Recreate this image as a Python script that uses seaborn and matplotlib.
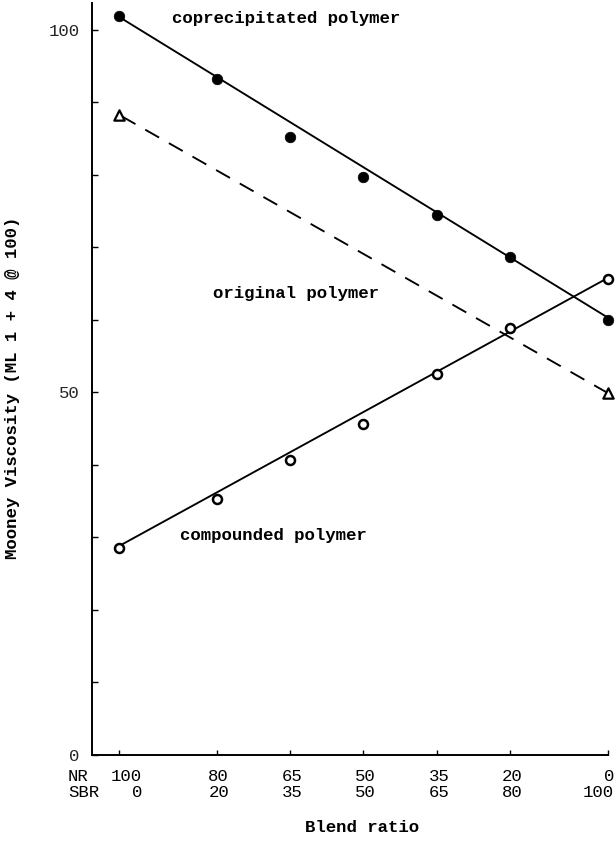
import matplotlib
matplotlib.use("Agg")
import matplotlib.pyplot as plt
import matplotlib.transforms as mtransforms
from matplotlib.ticker import FixedLocator
import pandas as pd
import seaborn as sns

# Blend ratios (NR / SBR parts) and Mooney viscosities
nr = [100, 80, 65, 50, 35, 20, 0]
sbr = [0, 20, 35, 50, 65, 80, 100]
coprecipitated = [101.9, 93.2, 85.2, 79.7, 74.5, 68.7, 60.0]
compounded = [28.6, 35.3, 40.7, 45.7, 52.6, 58.9, 65.7]

# Original (unblended) polymers, joined by a dashed line
original_nr = [100, 0]
original = [88.3, 49.9]

# Straight-line trends drawn through each series (values at NR 100 and NR 0)
trend_nr = [100, 0]
coprecipitated_trend = [101.8, 60.3]
compounded_trend = [28.8, 65.8]

y_major = [0, 50, 100]
y_minor = [10, 20, 30, 40, 60, 70, 80, 90]

points = pd.DataFrame({"nr": nr, "sbr": sbr,
                       "coprecipitated": coprecipitated,
                       "compounded": compounded})

sns.set_style("ticks")
plt.rcParams["font.family"] = ["Liberation Mono", "DejaVu Sans Mono"]
FS = 12.5

fig = plt.figure(figsize=(6.15, 8.41), dpi=100)
ax = fig.add_axes([92 / 615, 1 - 755 / 841, 516 / 615, 752 / 841])

line_kw = dict(color="black", linewidth=1.35, ax=ax, legend=False)
sns.lineplot(x=trend_nr, y=coprecipitated_trend, **line_kw)
sns.lineplot(x=trend_nr, y=compounded_trend, **line_kw)
sns.lineplot(x=original_nr, y=original, linestyle=(0, (8.5, 6.0)), **line_kw)

sns.scatterplot(data=points, x="nr", y="coprecipitated", ax=ax, marker="o",
                s=58, color="black", edgecolor="black", linewidth=0.5,
                clip_on=False, zorder=4)
sns.scatterplot(data=points, x="nr", y="compounded", ax=ax, marker="o",
                s=42, facecolor="white", edgecolor="black", linewidth=1.8,
                clip_on=False, zorder=4)
sns.scatterplot(x=original_nr, y=original, ax=ax, marker="^",
                s=55, facecolor="white", edgecolor="black", linewidth=1.6,
                clip_on=False, zorder=4)

ax.set_xlim(105.5, 0)
ax.set_ylim(0, 103.7)

for side in ("top", "right"):
    ax.spines[side].set_visible(False)
for side in ("left", "bottom"):
    ax.spines[side].set_linewidth(1.4)
    ax.spines[side].set_color("black")

# y axis: labelled ticks every 50, plain ticks every 10, all pointing inward
ax.yaxis.set_major_locator(FixedLocator(y_major))
ax.yaxis.set_minor_locator(FixedLocator(y_minor))
ax.set_yticklabels([str(v) for v in y_major])
ax.tick_params(axis="y", which="both", direction="in", length=4.5,
               width=1.0, color="black", pad=9, labelsize=FS)

# x axis: ticks at each blend, two-row NR / SBR labels below
ax.set_xticks(nr)
ax.set_xticklabels([])
ax.tick_params(axis="x", direction="in", length=3.5, width=1.0, color="black")

xtrans = ax.get_xaxis_transform()
last = len(nr) - 1
for i, (n, s) in enumerate(zip(nr, sbr)):
    if i == 0:
        ha, dx = "left", -8
    elif i == last:
        ha, dx = "right", 6
    else:
        ha, dx = "center", 2
    off = mtransforms.ScaledTranslation(dx / 100, 0, fig.dpi_scale_trans)
    ax.text(n, -0.0395, f"{n}\n{s}", transform=xtrans + off, ha=ha,
            va="center", multialignment="right", fontsize=FS,
            linespacing=1.12, color="black")

ax.text(-0.0465, -0.0395, "NR\nSBR", transform=ax.transAxes, ha="left",
        va="center", fontsize=FS, linespacing=1.12, color="black")

ax.set_xlabel("Blend ratio", fontsize=FS, fontweight="bold", color="black")
ax.xaxis.set_label_coords(0.523, -0.0865)
ax.set_ylabel("Mooney Viscosity (ML 1 + 4 @ 100)", fontsize=FS,
              fontweight="bold", color="black")
ax.yaxis.set_label_coords(-0.1395, 0.488)

note_kw = dict(fontsize=FS, fontweight="bold", ha="left", va="center",
               color="black")
ax.text(89.1, 101.5, "coprecipitated polymer", **note_kw)
ax.text(80.7, 63.6, "original polymer", **note_kw)
ax.text(87.5, 30.3, "compounded polymer", **note_kw)

fig.savefig("out.png", dpi=100)
